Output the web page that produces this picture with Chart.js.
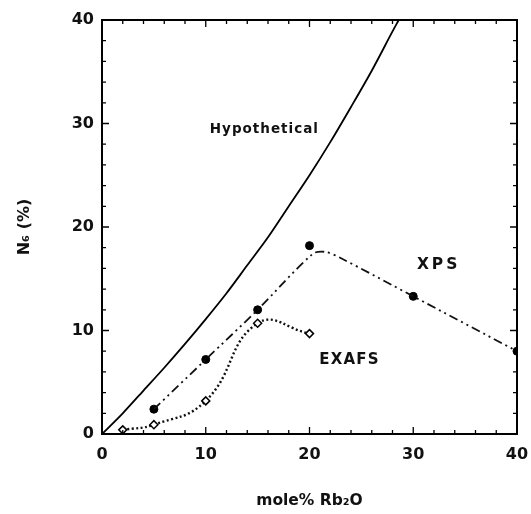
<!DOCTYPE html>
<html>
<head>
<meta charset="utf-8">
<script src="https://cdn.jsdelivr.net/npm/chart.js@4/dist/chart.umd.min.js"></script>
<style>
html,body{margin:0;padding:0;background:#fff;}
#wrap{width:531px;height:514px;}
</style>
</head>
<body>
<div id="wrap"><canvas id="c" width="531" height="514"></canvas></div>
<script>
// Hypothetical curve
const hypoX = [0, 2, 4, 6, 8, 10, 12, 14, 16, 18, 20, 22, 24, 26, 28, 28.6];
const hypoY = [0, 2.0, 4.2, 6.4, 8.7, 11.1, 13.6, 16.3, 19.0, 22.0, 25.0, 28.2, 31.6, 35.1, 38.9, 40];

// XPS measured points (filled circles)
const xpsX = [5, 10, 15, 20, 30, 40];
const xpsY = [2.4, 7.2, 12.0, 18.2, 13.3, 8.0];
// XPS guide line (dash-dot-dot), passes just below the 20% point
const xpsLineX = [5, 10, 15, 20.3, 21.5, 23, 30, 40];
const xpsLineY = [2.4, 7.2, 12.0, 17.4, 17.6, 17.0, 13.3, 8.0];

// EXAFS measured points (open diamonds)
const exafsX = [2, 5, 10, 15, 20];
const exafsY = [0.4, 0.9, 3.2, 10.7, 9.7];

const xTicks = [0, 10, 20, 30, 40];
const yTicks = [0, 10, 20, 30, 40];

const pts = (xs, ys) => xs.map((x, i) => ({x: x, y: ys[i]}));

const FONT = "'DejaVu Sans', 'Liberation Sans', Arial, sans-serif";

const framePlugin = {
  id: 'frame',
  afterDatasetsDraw(chart) {
    const {ctx, chartArea: a, scales} = chart;
    const xs = scales.x, ys = scales.y;
    ctx.save();
    ctx.strokeStyle = '#000';
    ctx.lineWidth = 2;
    ctx.strokeRect(a.left, a.top, a.right - a.left, a.bottom - a.top);
    ctx.lineWidth = 1.3;
    for (let v = 0; v <= 40; v += 2) {
      const major = v % 10 === 0;
      const len = major ? 7 : 4;
      const px = xs.getPixelForValue(v);
      const py = ys.getPixelForValue(v);
      ctx.beginPath();
      ctx.moveTo(px, a.bottom); ctx.lineTo(px, a.bottom - len);
      ctx.moveTo(px, a.top); ctx.lineTo(px, a.top + len);
      ctx.moveTo(a.left, py); ctx.lineTo(a.left + len, py);
      ctx.moveTo(a.right, py); ctx.lineTo(a.right - len, py);
      ctx.stroke();
    }
    // annotations
    ctx.fillStyle = '#111';
    ctx.textAlign = 'center';
    ctx.textBaseline = 'middle';
    const label = (txt, x, y, size, ls) => {
      ctx.font = "bold " + size + "px " + FONT;
      ctx.letterSpacing = ls + 'px';
      ctx.fillText(txt, xs.getPixelForValue(x) + ls / 2, ys.getPixelForValue(y));
    };
    label('Hypothetical', 15.6, 29.4, 13.5, 1);
    label('XPS', 32.3, 16.3, 15.5, 3);
    label('EXAFS', 23.8, 7.15, 15, 1.2);
    ctx.restore();
  }
};

new Chart(document.getElementById('c'), {
  type: 'scatter',
  data: {
    datasets: [
      {
        label: 'Hypothetical',
        data: pts(hypoX, hypoY),
        showLine: true,
        borderColor: '#000',
        borderWidth: 1.8,
        pointRadius: 0,
        tension: 0.3,
        fill: false
      },
      {
        label: 'XPS line',
        data: pts(xpsLineX, xpsLineY),
        showLine: true,
        borderColor: '#111',
        borderWidth: 1.8,
        borderDash: [9, 4, 2, 4, 2, 4],
        pointRadius: 0,
        tension: 0.3
      },
      {
        label: 'XPS',
        data: pts(xpsX, xpsY),
        showLine: false,
        pointRadius: 4,
        pointStyle: 'circle',
        backgroundColor: '#000',
        borderColor: '#000'
      },
      {
        label: 'EXAFS',
        data: pts(exafsX, exafsY),
        showLine: true,
        borderColor: '#111',
        borderWidth: 2.4,
        borderDash: [2, 2.5],
        tension: 0.45,
        pointRadius: 4,
        pointStyle: 'rectRot',
        pointBackgroundColor: '#fff',
        pointBorderColor: '#000',
        pointBorderWidth: 1.5
      }
    ]
  },
  options: {
    responsive: false,
    animation: false,
    clip: {left: 0, top: 0, right: 0, bottom: 0},
    layout: {padding: {top: 20, right: 14, left: 0, bottom: 0}},
    plugins: {legend: {display: false}, tooltip: {enabled: false}},
    scales: {
      x: {
        type: 'linear', min: 0, max: 40,
        afterFit(s) { s.height = 80; s.paddingLeft = 0; s.paddingRight = 0; },
        afterBuildTicks(s) { s.ticks = xTicks.map(v => ({value: v})); },
        grid: {display: false, drawTicks: false},
        border: {display: false},
        ticks: {color: '#111', font: {family: "'DejaVu Sans'", size: 16, weight: 'bold'}, padding: 11, maxRotation: 0},
        title: {display: true, text: 'mole% Rb\u2082O', color: '#111',
                font: {family: FONT, size: 15.5, weight: 'bold'}, padding: {top: 0, bottom: 4}}
      },
      y: {
        type: 'linear', min: 0, max: 40,
        afterFit(s) { s.width = 102; s.paddingTop = 0; s.paddingBottom = 0; },
        afterBuildTicks(s) { s.ticks = yTicks.map(v => ({value: v})); },
        grid: {display: false, drawTicks: false},
        border: {display: false},
        ticks: {color: '#111', font: {family: "'DejaVu Sans'", size: 16, weight: 'bold'}, padding: 8},
        title: {display: true, text: 'N\u2086 (%)', color: '#111',
                font: {family: FONT, size: 16, weight: 'bold'}, padding: {top: 15, bottom: 0}}
      }
    }
  },
  plugins: [framePlugin]
});
</script>
</body>
</html>
